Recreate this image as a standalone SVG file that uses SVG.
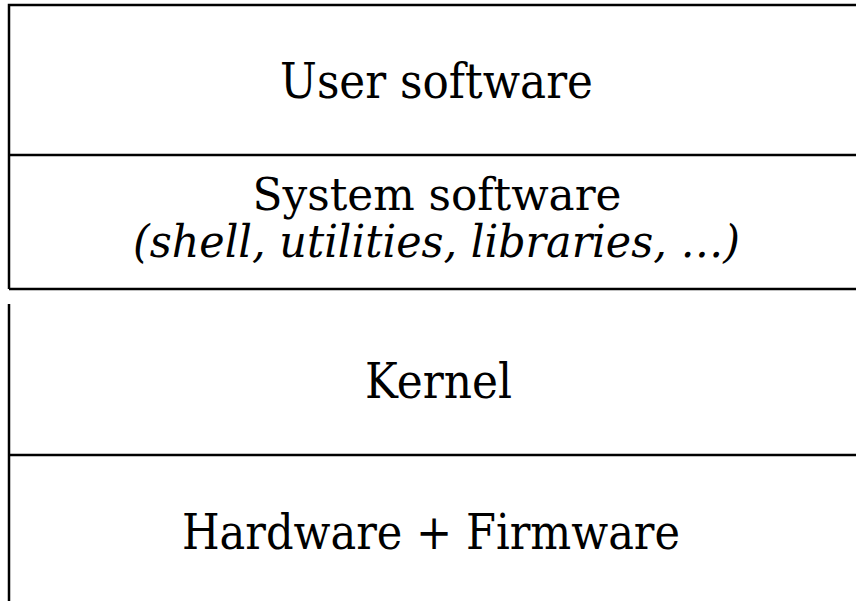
<svg xmlns="http://www.w3.org/2000/svg" width="856" height="601" viewBox="0 0 856 601">
<style>
.ln{stroke:#000;stroke-width:2.5;fill:none}
.t{font-family:"DejaVu Serif","Liberation Serif",serif;font-size:49px;fill:#000;text-anchor:middle}
.s{font-size:45px}
.i{font-style:italic}
</style>
<rect width="856" height="601" fill="#fff"/>
<g id="connectors">
<path class="ln" d="M9 602 V304"/>
<path class="ln" d="M9 289 V5 H857"/>
<path class="ln" d="M9 155 H857"/>
<path class="ln" d="M9 289 H857"/>
<path class="ln" d="M9 455 H857"/>
</g>
<g id="user"><text class="t" x="436.5" y="98" textLength="313" lengthAdjust="spacingAndGlyphs">User software</text></g>
<g id="system"><text class="t s" x="437" y="210" textLength="369" lengthAdjust="spacingAndGlyphs">System software</text>
<text class="t s i" x="436.5" y="257" textLength="607" lengthAdjust="spacingAndGlyphs">(shell, utilities, libraries, …)</text></g>
<g id="kernel"><text class="t" x="438.5" y="398" textLength="147" lengthAdjust="spacingAndGlyphs">Kernel</text></g>
<g id="hardware"><text class="t" x="431" y="549" textLength="498" lengthAdjust="spacingAndGlyphs">Hardware + Firmware</text></g>
</svg>
